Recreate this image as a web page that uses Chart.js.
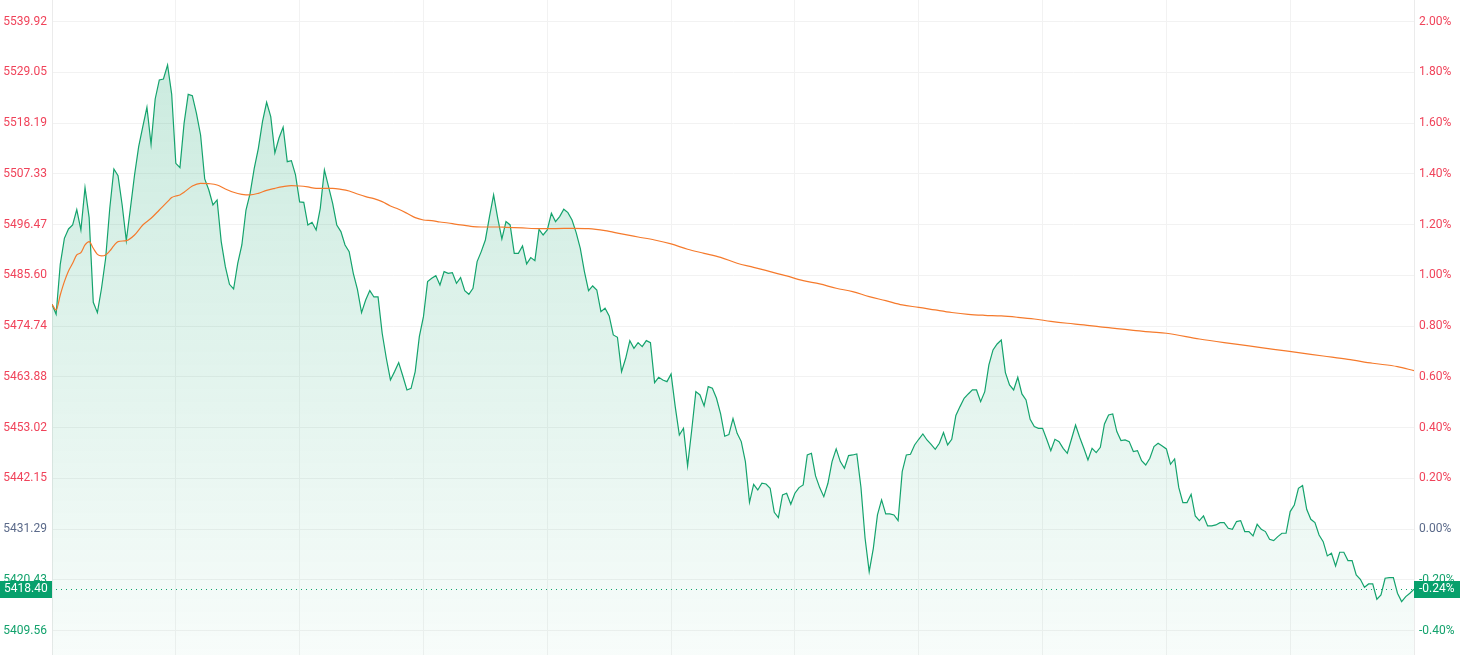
<!DOCTYPE html>
<html><head><meta charset="utf-8">
<script src="https://cdn.jsdelivr.net/npm/chart.js@4.4.1/dist/chart.umd.min.js"></script>
<style>html,body{margin:0;padding:0;background:#fff;overflow:hidden}#wrap{position:relative;width:1466px;height:655px}</style>
</head><body><div id="wrap"><canvas id="c"></canvas></div>
<script>
const prevClose = 5431.29;
const lastPrice = 5418.40;
const lastPctLabel = '-0.24%';
const priceTicks = [5539.92, 5529.05, 5518.19, 5507.33, 5496.47, 5485.60, 5474.74, 5463.88, 5453.02, 5442.15, 5431.29, 5420.43, 5409.56];
const pctTickLabels = ['2.00%', '1.80%', '1.60%', '1.40%', '1.20%', '1.00%', '0.80%', '0.60%', '0.40%', '0.20%', '0.00%', '-0.20%', '-0.40%'];
const timeGridTicks = [0, 30, 60, 90, 120, 150, 180, 210, 240, 270, 300, 330];
const prices = [
5479.40,5477.26,5487.96,5493.53,5495.53,5496.38,5499.66,5495.31,5504.37,5497.95,
5479.83,5477.62,5482.83,5489.25,5499.95,5508.37,5506.94,5500.66,5493.03,5499.95,
5507.08,5513.15,5517.43,5521.57,5513.65,5523.35,5527.42,5527.63,5530.63,5524.35,
5509.58,5508.65,5518.14,5524.35,5524.07,5520.28,5515.65,5506.23,5503.87,5500.66,
5501.73,5492.82,5487.46,5483.68,5482.68,5488.18,5492.10,5499.59,5503.16,5508.51,
5512.79,5518.50,5522.64,5519.57,5511.80,5515.00,5517.29,5509.94,5510.15,5507.09,
5501.31,5501.24,5496.38,5496.95,5495.31,5499.95,5508.16,5504.59,5501.02,5496.38,
5494.96,5492.10,5490.68,5486.04,5482.61,5477.62,5480.33,5482.33,5480.97,5480.97,
5473.20,5467.85,5463.21,5464.99,5466.92,5464.06,5461.07,5461.42,5464.99,5472.48,
5476.76,5484.26,5484.97,5485.54,5483.54,5486.40,5486.04,5486.18,5483.90,5485.11,
5482.33,5481.54,5482.83,5488.54,5490.68,5493.17,5498.17,5502.81,5497.81,5493.40,
5497.10,5496.39,5490.32,5490.32,5491.89,5488.04,5489.39,5488.75,5495.46,5494.24,
5495.31,5498.88,5497.10,5498.17,5499.74,5499.02,5497.45,5494.74,5491.39,5486.40,
5482.33,5483.33,5482.47,5477.83,5478.55,5476.91,5472.84,5472.34,5464.99,5467.85,
5471.63,5469.99,5471.20,5470.35,5471.63,5471.20,5462.64,5463.78,5463.21,5462.85,
5464.49,5457.50,5451.43,5452.86,5444.80,5452.50,5460.71,5460.00,5457.64,5461.78,
5461.42,5459.28,5455.93,5451.15,5451.50,5454.93,5451.79,5450.01,5445.73,5437.02,
5440.87,5439.66,5441.09,5440.94,5440.02,5434.88,5433.74,5438.59,5438.95,5436.59,
5438.95,5440.16,5440.73,5447.15,5447.51,5442.66,5440.16,5438.23,5441.09,5445.73,
5448.44,5445.73,5444.30,5447.01,5447.15,5447.37,5440.23,5429.32,5422.18,5427.17,
5434.31,5437.52,5434.52,5434.52,5434.31,5433.10,5443.58,5447.15,5447.29,5449.29,
5450.51,5451.65,5450.36,5449.43,5448.36,5449.65,5451.93,5449.29,5450.51,5455.60,
5457.50,5459.28,5460.21,5461.07,5461.07,5458.57,5460.71,5466.42,5469.63,5470.91,
5471.77,5464.78,5462.14,5461.07,5463.78,5460.21,5458.93,5454.79,5453.22,5452.86,
5452.86,5450.51,5448.08,5450.51,5450.01,5448.58,5447.51,5450.51,5453.57,5450.94,
5448.58,5446.08,5448.58,5447.65,5448.79,5453.79,5455.72,5455.93,5452.15,5450.22,
5450.36,5450.01,5447.87,5448.08,5445.94,5445.01,5446.44,5448.94,5449.65,5449.08,
5448.44,5445.16,5446.30,5440.20,5436.95,5436.95,5438.74,5434.10,5433.10,5434.10,
5431.96,5431.96,5432.17,5432.67,5432.67,5431.46,5431.24,5432.89,5433.10,5430.75,
5430.75,5429.82,5432.31,5431.24,5430.75,5429.10,5428.82,5429.67,5430.39,5430.39,
5435.03,5436.45,5440.02,5440.59,5435.53,5433.38,5432.67,5430.03,5428.60,5425.54,
5426.11,5423.40,5426.32,5426.32,5424.54,5424.54,5421.47,5420.54,5418.83,5419.54,
5419.54,5416.26,5417.19,5420.76,5420.90,5420.90,5417.55,5415.76,5416.83,5417.55,
5418.40
];
const avgIndex = [0,1,2,3,4,5,6,7,8,9,10,11,12,13,14,15,16,18,20,22,24,26,28,29,30,31,32,34,36,38,40,42,44,46,48,50,52,54,56,58,60,62,64,66,68,70,72,74,76,78,80,82,84,86,88,90,92,94,96,98,100,102,104,106,108,110,114,118,122,126,130,134,138,142,146,150,154,158,162,166,170,174,178,182,186,190,194,198,202,206,210,214,218,222,226,230,234,238,242,246,250,254,258,262,266,270,278,284,290,296,302,308,314,320,326,330];
const avgValues = [5479.40,5478.19,5481.40,5484.25,5486.54,5488.18,5489.96,5490.46,5492.10,5492.82,5491.39,5490.10,5489.75,5489.96,5490.82,5491.96,5492.82,5493.03,5494.24,5496.38,5497.81,5499.59,5501.38,5502.24,5502.59,5502.81,5503.38,5504.73,5505.30,5505.23,5504.95,5504.09,5503.38,5502.95,5502.81,5503.16,5503.80,5504.23,5504.59,5504.80,5504.73,5504.52,5504.23,5504.23,5504.23,5504.02,5503.66,5503.02,5502.45,5502.02,5501.38,5500.45,5499.74,5498.88,5497.95,5497.45,5497.31,5497.02,5496.81,5496.53,5496.31,5496.03,5495.95,5495.95,5495.95,5495.88,5495.74,5495.60,5495.60,5495.67,5495.60,5495.17,5494.46,5493.81,5493.17,5492.32,5491.18,5490.32,5489.46,5488.18,5487.32,5486.40,5485.47,5484.47,5483.76,5482.83,5482.12,5481.04,5480.19,5479.26,5478.76,5478.19,5477.65,5477.26,5477.05,5476.91,5476.62,5476.26,5475.76,5475.34,5474.98,5474.55,5474.19,5473.84,5473.48,5473.20,5471.98,5471.20,5470.49,5469.77,5469.06,5468.34,5467.63,5466.78,5466.06,5465.21];

const RED = '#f0435a', GREEN = '#12a26c', NEUTRAL = '#5b6a8a';
const LINE = '#14a36d', ORANGE = '#f57a2c', BOX = '#07a06c', GRID = '#f2f2f2';
const FONT = {family: 'Roboto', size: 12};

function tickColor(ctx) {
  const v = ctx.tick.value;
  if (Math.abs(v - prevClose) < 0.005) return NEUTRAL;
  return v > prevClose ? RED : GREEN;
}

const lastTagPlugin = {
  id: 'lastTag',
  beforeDatasetsDraw(chart) {
    const {ctx, chartArea, scales} = chart;
    const y = Math.round(scales.y.getPixelForValue(lastPrice)) + 0.5;
    ctx.save();
    ctx.strokeStyle = GREEN; ctx.lineWidth = 1; ctx.setLineDash([1, 4]);
    ctx.beginPath(); ctx.moveTo(chartArea.left + 4, y); ctx.lineTo(chartArea.right, y); ctx.stroke();
    ctx.restore();
  },
  afterDraw(chart) {
    const {ctx, chartArea, scales} = chart;
    const y = scales.y.getPixelForValue(lastPrice);
    ctx.save();
    ctx.fillStyle = BOX;
    ctx.fillRect(0, Math.round(y - 8.5), chartArea.left, 17);
    ctx.fillRect(chartArea.right, Math.round(y - 8.5), 46, 17);
    ctx.fillStyle = '#ffffff';
    ctx.font = '12px Roboto';
    ctx.textBaseline = 'middle';
    ctx.textAlign = 'left';
    ctx.fillText(lastPrice.toFixed(2), 4, y);
    ctx.fillText(lastPctLabel, chartArea.right + 5, y);
    ctx.restore();
  }
};

const yMin = 5404.33, yMax = 5544.54;
function noPad(s) { s.paddingTop = 0; s.paddingBottom = 0; s.paddingLeft = 0; s.paddingRight = 0; }

new Chart(document.getElementById('c'), {
  type: 'line',
  data: {
    datasets: [
      {
        label: 'avg',
        data: avgIndex.map((x, k) => ({x, y: avgValues[k]})),
        borderColor: ORANGE, borderWidth: 1.2, pointRadius: 0,
        cubicInterpolationMode: 'monotone', fill: false, order: 0
      },
      {
        label: 'price',
        data: prices.map((y, i) => ({x: i, y})),
        borderColor: LINE, borderWidth: 1.2, pointRadius: 0, tension: 0,
        fill: 'start', order: 1,
        backgroundColor(ctx) {
          const {chart} = ctx; const ca = chart.chartArea;
          if (!ca) return 'rgba(17,163,108,0.1)';
          const g = chart.ctx.createLinearGradient(0, ca.top, 0, ca.bottom);
          g.addColorStop(0, 'rgba(17,163,108,0.24)');
          g.addColorStop(1, 'rgba(17,163,108,0.03)');
          return g;
        }
      }
    ]
  },
  options: {
    responsive: true, maintainAspectRatio: false, animation: false,
    devicePixelRatio: 1,
    layout: {padding: 0},
    plugins: {legend: {display: false}, tooltip: {enabled: false}},
    scales: {
      x: {
        type: 'linear', min: 0, max: prices.length - 1,
        afterBuildTicks(s) { s.ticks = timeGridTicks.map(v => ({value: v})); },
        afterFit(s) { s.height = 0; noPad(s); },
        ticks: {display: false},
        grid: {color: GRID, drawTicks: false},
        border: {display: false}
      },
      y: {
        type: 'linear', position: 'left', min: yMin, max: yMax,
        afterBuildTicks(s) { s.ticks = priceTicks.map(v => ({value: v})); },
        afterFit(s) { s.width = 52; noPad(s); },
        ticks: {
          autoSkip: false, padding: 5, font: FONT, color: tickColor,
          callback: (v, i) => priceTicks[i].toFixed(2)
        },
        grid: {color: GRID, drawTicks: false},
        border: {color: '#ebebeb'}
      },
      y2: {
        type: 'linear', position: 'right', min: yMin, max: yMax,
        afterBuildTicks(s) { s.ticks = priceTicks.map(v => ({value: v})); },
        afterFit(s) { s.width = 52; noPad(s); },
        ticks: {
          autoSkip: false, padding: 5, font: FONT, color: tickColor,
          callback: (v, i) => pctTickLabels[i]
        },
        grid: {display: false, drawTicks: false},
        border: {color: '#ebebeb'}
      }
    }
  },
  plugins: [lastTagPlugin]
});
</script>
</body></html>
